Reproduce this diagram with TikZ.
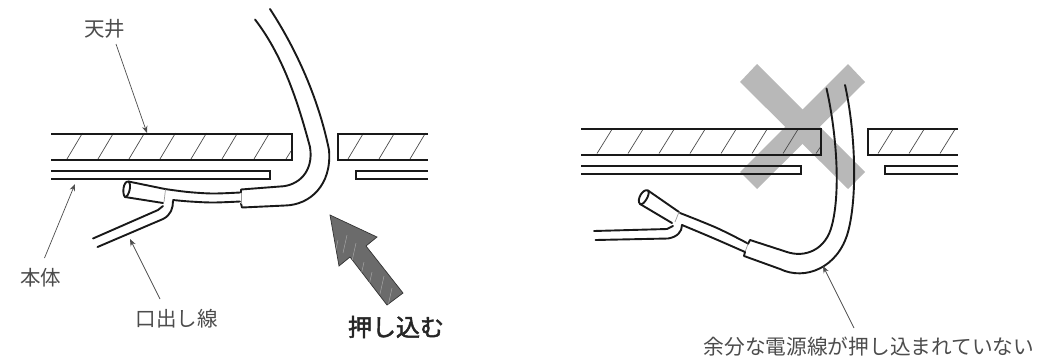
\documentclass[tikz,border=0pt]{standalone}
\usepackage{fontspec}
\setmainfont{Noto Sans CJK JP}
\newfontfamily\oshifont[FakeBold=2]{Noto Sans CJK JP}
\usetikzlibrary{arrows.meta}
\definecolor{txt}{gray}{0.3}
\tikzset{
  wall/.style={line width=2pt,black!90},
  hatchline/.style={line width=0.7pt,black!70},
  cable/.style={line width=1.9pt,black!90,line cap=round,line join=round},
  seam/.style={line width=0.7pt,black!40},
  leader/.style={line width=0.7pt,black!70,-{Stealth[length=7pt,width=5.5pt]}},
  lab/.style={font=\fontsize{20.5}{21}\selectfont,text=txt,inner sep=0pt},
  smoothy/.style={smooth,tension=0.55}
}
\begin{document}
\begin{tikzpicture}[x=1pt,y=-1pt]
\useasboundingbox (0,0) rectangle (1048,360);
% LEFT ---------------------------------------------------
\foreach \x in {67,98,129,160,191,222,254,348,379,410}
  \draw[hatchline] (\x,159) -- ++(15.5,-26);
\draw[hatchline] (286,159) -- (291,151);
\draw[wall] (51,133.5) -- (291.5,133.5) -- (291.5,159.5) -- (51,159.5);
\draw[wall] (428,133.5) -- (338,133.5) -- (338,159.5) -- (428,159.5);
\draw[wall] (51,170.5) -- (270,170.5) -- (270,178.5) -- (51,178.5);
\draw[wall] (428,170.5) -- (355.5,170.5) -- (355.5,178.5) -- (428,178.5);
% cable
\draw[cable] (241,192.5) -- (241,189.5) -- (280,186.5) .. controls (298,186) and (314,172) .. (310,147) .. controls (300,110) and (285,58) .. (255,19.5);
\draw[cable] (241,203.5) -- (242,207.5) -- (285,205.5) .. controls (310,205) and (332,185) .. (329,150) .. controls (320,105) and (300,55) .. (270,9);
\draw[seam] (241,192.5) -- (241,203.5);
\draw[cable] plot[smoothy] coordinates {(240,192.5) (213,193.5) (188,192) (165,189)};
\draw[cable] plot[smoothy] coordinates {(240,201.5) (213,202.5) (190,201.5) (173,200)};
\draw[cable] (128.5,181.5) -- (165,189);
\draw[cable] (125,197) -- (163,203);
\draw[cable] (128.5,181.5) .. controls (123,181) and (122,194) .. (125,197) .. controls (129,197) and (132,184) .. (128.5,181.5);
\draw[seam] (165.5,189.5) -- (164,202);
\draw[cable] (93,238.5) -- (158,210) -- (163,206);
\draw[cable] (97.5,247) -- (163,219) .. controls (171,215) and (173,208) .. (173,201);
% push arrow
\path[fill=black!58,draw=black!80,line width=0.7pt] (330,215) -- (377,237) -- (366,246) -- (403,293) -- (387,305) -- (350,257) -- (339,266) -- cycle;
\begin{scope}
\clip (330,215) -- (377,237) -- (366,246) -- (403,293) -- (387,305) -- (350,257) -- (339,266) -- cycle;
\foreach \x/\y in {338/240,347/235,356/243,364/262,372/272,384/276,392/288}
  \draw[black!35,line width=0.5pt] (\x,\y) -- ++(-4,18);
\end{scope}
% labels left
\node[lab] (tenjo) at (104.5,29) {天井};
\node[lab] (hontai) at (40.5,278) {本体};
\node[lab] (kuchi) at (176.5,319) {口出し線};
\node[inner sep=0pt,font=\fontsize{24}{25}\selectfont\oshifont,text=black!85] (oshi) at (396,327) {押し込む};
\coordinate (t1) at (147,133);
\coordinate (h1) at (75,184);
\coordinate (k1) at (130,239);
\draw[leader] (116,44) -- (t1);
\draw[leader] (44.5,258) -- (h1);
\draw[leader] (160,299) -- (k1);
% RIGHT --------------------------------------------------
\fill[black!28] (740,82) -- (757,64) -- (865,172) -- (848,189) -- cycle;
\fill[black!28] (865,82) -- (848,64) -- (740,172) -- (757,189) -- cycle;
\foreach \x in {597,628,659,690,721,752,783,878,909,940}
  \draw[hatchline] (\x,153.5) -- ++(15.5,-25);
\draw[hatchline] (816,153.5) -- (821,146);
\draw[wall] (581,128.5) -- (821,128.5) -- (821,154.5) -- (581,154.5);
\draw[wall] (958,128.5) -- (867.5,128.5) -- (867.5,154.5) -- (958,154.5);
\draw[wall] (581,165.5) -- (800.5,165.5) -- (800.5,173.5) -- (581,173.5);
\draw[wall] (958,165.5) -- (885,165.5) -- (885,173.5) -- (958,173.5);
\draw[cable] (826.5,88.5) .. controls (836,130) and (841,190) .. (832,225) .. controls (826,250) and (805,258) .. (787,252) -- (750,240) -- (748,244);
\draw[cable] (845,85) .. controls (855,130) and (858,195) .. (848,232) .. controls (838,268) and (805,281) .. (780,269) -- (744,256) -- (745,252);
\draw[seam] (748,244) -- (745,252);
\draw[cable] plot[smoothy] coordinates {(747,243) (717,228) (680,213)};
\draw[cable] plot[smoothy] coordinates {(745,252) (713,238) (682,225)};
\draw[cable] (648,190.5) -- (679,212);
\draw[cable] (640,204) -- (672,223);
\draw[cable] (648,190.5) .. controls (643,188) and (636,200) .. (640,204) .. controls (644,206) and (651,193) .. (648,190.5);
\draw[seam] (679,212) -- (675,222);
\draw[cable] (594,231) -- (667,229) -- (673,226);
\draw[cable] (595.5,240) -- (668,238.5) .. controls (677,237) and (682,232) .. (682,225);
% label right
\node[lab,font=\fontsize{20.7}{21}\selectfont] (nuki) at (869,347) {余分な電源線が押し込まれていない};
\coordinate (n1) at (823,266);
\draw[leader] (854,328) -- (n1);
\end{tikzpicture}
\end{document}
